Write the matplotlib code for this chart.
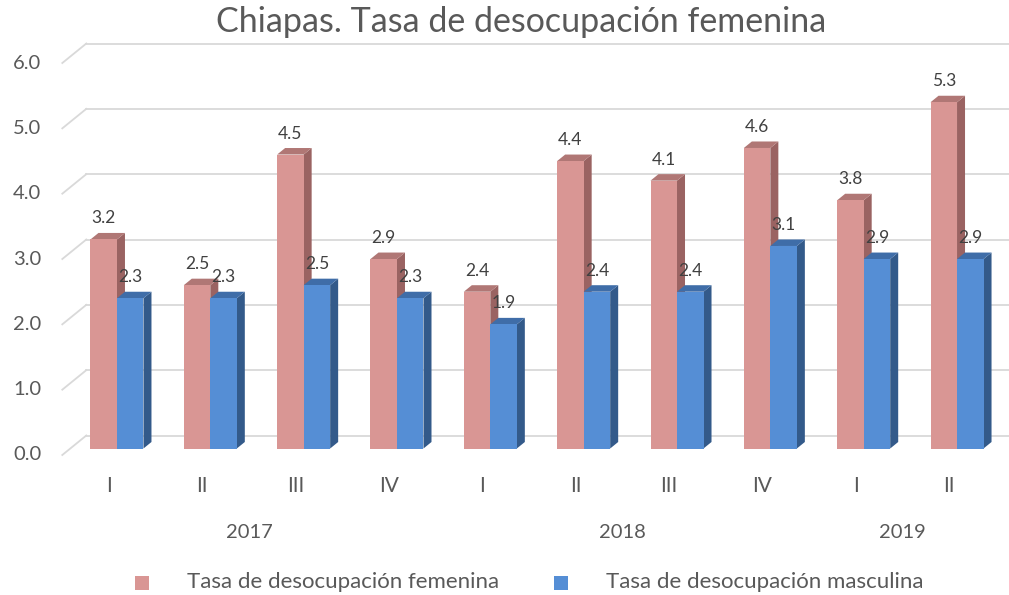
import numpy as np
import matplotlib
matplotlib.use('Agg')
import matplotlib.pyplot as plt
from matplotlib.patches import Polygon, Rectangle

plt.rcParams['font.family'] = ['Lato', 'DejaVu Sans']

titulo = 'Chiapas. Tasa de desocupación femenina'
trimestres = ['I', 'II', 'III', 'IV', 'I', 'II', 'III', 'IV', 'I', 'II']
anios = ['2017', '2018', '2019']
anio_idx = [[0, 1, 2, 3], [4, 5, 6, 7], [8, 9]]
femenina = [3.2, 2.5, 4.5, 2.9, 2.4, 4.4, 4.1, 4.6, 3.8, 5.3]
masculina = [2.3, 2.3, 2.5, 2.3, 1.9, 2.4, 2.4, 3.1, 2.9, 2.9]
series = ['Tasa de desocupación femenina', 'Tasa de desocupación masculina']
yticks = [0, 1, 2, 3, 4, 5, 6]

# colores: frente, lado, tapa
rosa = ('#D99694', '#9A6362', '#B07775')
azul = ('#558ED5', '#335A8A', '#3F6DA8')
gris = '#595959'
rejilla = '#D9D9D9'

W, H = 1009, 595
fig = plt.figure(figsize=(W / 100, H / 100), dpi=100)

# eje en pixeles: x de 62.3 a 995.7, y=0 en 455, 65.33 px por unidad
px_x = 93.33
px_y = 65.33
x0, x1 = 62.3, 995.7
ybase = 455
ytop = 6.6
ax = fig.add_axes([x0 / W, (H - ybase) / H, (x1 - x0) / W, ytop * px_y / H])
ax.set_xlim(-0.5, 9.5)
ax.set_ylim(0, ytop)
ax.axis('off')

ddx = 8 / px_x     # profundidad en x
ddy = 6.5 / px_y   # profundidad en y
bw = 26.5 / px_x   # ancho de barra

# rejilla: trazo inclinado a la izquierda y linea en la pared del fondo
xr = (W - x0) / px_x - 0.5
for k in yticks:
    ax.plot([-0.5, -0.5 + 3 * ddx], [k, k + 3 * ddy], color=rejilla,
            lw=1.3, clip_on=False, zorder=1)
    ax.plot([-0.5 + 3 * ddx, xr], [k + 3 * ddy, k + 3 * ddy], color=rejilla,
            lw=1.3, clip_on=False, zorder=1)
    ax.annotate(f'{k:.1f}', (-0.5, k), xytext=(-21 * 0.72, 0),
                textcoords='offset points', ha='right', va='center',
                fontsize=14.5, color=gris)


def barra(xl, v, cols, z):
    xr_ = xl + bw
    lado = Polygon([(xr_, ddy), (xr_ + ddx, 2 * ddy), (xr_ + ddx, v + 2 * ddy),
                    (xr_, v + ddy)], closed=True, fc=cols[1], ec='none',
                   zorder=z, clip_on=False)
    tapa = Polygon([(xl, v + ddy), (xl + ddx, v + 2 * ddy),
                    (xr_ + ddx, v + 2 * ddy), (xr_, v + ddy)], closed=True,
                   fc=cols[2], ec='none', zorder=z, clip_on=False)
    ax.add_patch(lado)
    ax.add_patch(tapa)
    ax.bar(xl, v, width=bw, bottom=ddy, align='edge', color=cols[0],
           zorder=z + 0.1, clip_on=False)
    ax.annotate(f'{v:.1f}', (xl + bw / 2, v + ddy), xytext=(0, 21 * 0.72),
                textcoords='offset points', ha='center', va='center',
                fontsize=12.5, color='#404040', zorder=20)


x = np.arange(len(trimestres))
for i in x:
    barra(i - bw + ddx, femenina[i], rosa, 3 + i)
    barra(i + ddx, masculina[i], azul, 3.5 + i)

for i, t in enumerate(trimestres):
    ax.annotate(t, (i, 0), xytext=(0, -31 * 0.72), textcoords='offset points',
                ha='center', va='center', fontsize=15, color=gris)
for a, idx in zip(anios, anio_idx):
    ax.annotate(a, (np.mean(idx), 0), xytext=(0, -78 * 0.72),
                textcoords='offset points', ha='center', va='center',
                fontsize=14.5, color=gris)

fig.text(521 / W, 1 - 22 / H, titulo, ha='center', va='center',
         fontsize=24.5, color=gris)

# leyenda
for nombre, cols, xm in zip(series, (rosa, azul), (135, 554)):
    fig.patches.append(Rectangle((xm / W, 1 - 590 / H), 14 / W, 14 / H,
                                 transform=fig.transFigure, fc=cols[0],
                                 ec='none'))
    fig.text((xm + 52) / W, 1 - 582 / H, nombre, ha='left', va='center',
             fontsize=16, color=gris)

fig.savefig('out.png', dpi=100)
